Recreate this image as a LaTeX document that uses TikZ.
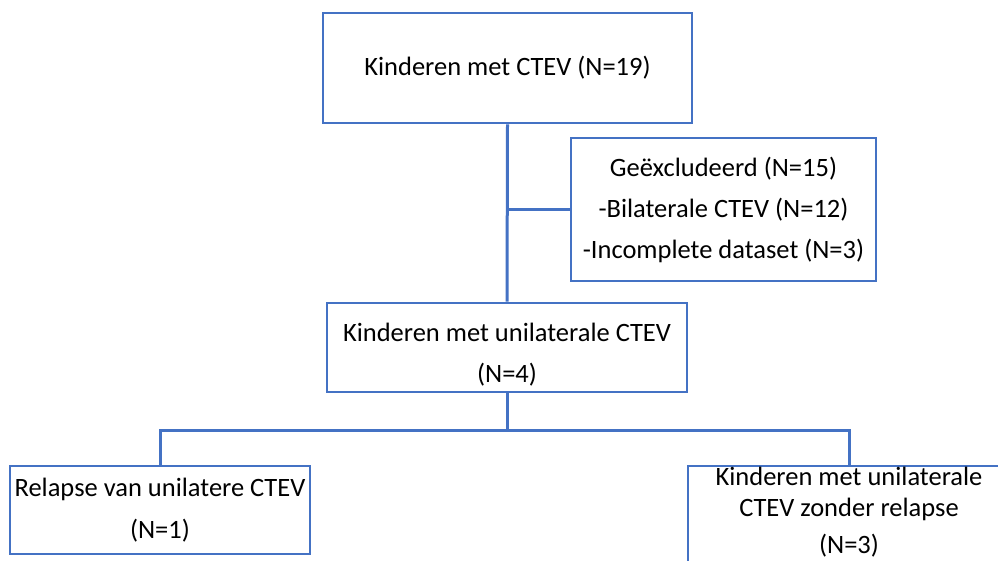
\documentclass[tikz,border=0pt]{standalone}
\usepackage{fontspec}
\setmainfont{Carlito}
\definecolor{wordblue}{HTML}{4472C4}
\tikzset{
  txt/.style={font=\fontsize{26.5}{30.5}\selectfont, align=center, inner sep=0pt},
  box/.style={draw=wordblue, line width=2.6pt, fill=white, txt},
  conn/.style={draw=wordblue, line width=3pt},
}
\begin{document}
\begin{tikzpicture}[x=1pt,y=1pt]
\useasboundingbox (0,0) rectangle (998,-561);
\clip (0,0) rectangle (998,-561);
\node[box, minimum width=369pt, minimum height=110pt] (top) at (507.5,-68) {Kinderen met CTEV (N=19)};
\node[box, minimum width=305pt, minimum height=143pt] (excl) at (723.5,-209.5)
  {Geëxcludeerd (N=15)\\[10.5pt]-Bilaterale CTEV (N=12)\\[10.5pt]-Incomplete dataset (N=3)};
\node[box, minimum width=360pt, minimum height=89pt] (mid) at (507,-347.5) {};
\node[txt] (midtext) at (507,-355) {Kinderen met unilaterale CTEV\\[10.5pt](N=4)};
\node[box, minimum width=300pt, minimum height=88pt] (left) at (160,-510)
  {Relapse van unilatere CTEV\\[11.5pt](N=1)};
\node[box, minimum width=322pt, minimum height=154pt] (right) at (849,-543) {};
\node[txt, anchor=north] (righttext) at (849,-467)
  {Kinderen met unilaterale\\CTEV zonder relapse\\[7pt](N=3)};
\coordinate (split) at (507,-430);
\draw[conn] (top.south) -- (mid.north);
\draw[conn] (top.south |- excl.west) -- (excl.west);
\draw[conn] (mid.south) -- (split);
\draw[conn] (split) -| (left.north);
\draw[conn] (split) -| (right.north);
\end{tikzpicture}
\end{document}
